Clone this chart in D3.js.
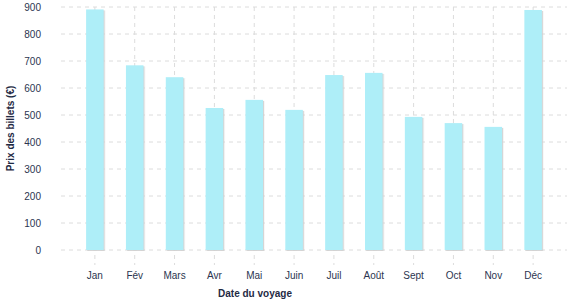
<!DOCTYPE html>
<html>
<head>
<meta charset="utf-8">
<script src="https://cdn.jsdelivr.net/npm/d3@7"></script>
<style>
body { margin: 0; background: #fff; }
text { font-family: "Liberation Sans", Arial, sans-serif; }
</style>
</head>
<body>
<div id="chart"></div>
<script>
var months = ["Jan", "Fév", "Mars", "Avr", "Mai", "Juin", "Juil", "Août", "Sept", "Oct", "Nov", "Déc"];
var prices = [891, 684, 640, 526, 556, 519, 648, 656, 493, 470, 456, 889];
var yTicks = [0, 100, 200, 300, 400, 500, 600, 700, 800, 900];

var width = 577, height = 300;
var margin = {top: 7, right: 10, bottom: 50, left: 61};
var innerW = width - margin.left - margin.right,
    innerH = height - margin.top - margin.bottom;

var svg = d3.select("#chart").append("svg")
    .attr("width", width)
    .attr("height", height);

var defs = svg.append("defs");
var shadow = defs.append("filter").attr("id", "bar-shadow")
    .attr("x", "-20%").attr("y", "-5%").attr("width", "150%").attr("height", "120%");
shadow.append("feDropShadow")
    .attr("dx", 1.2).attr("dy", 1)
    .attr("stdDeviation", 0.4)
    .attr("flood-color", "#d0d0d0")
    .attr("flood-opacity", 0.9);

var g = svg.append("g")
    .attr("transform", "translate(" + margin.left + "," + margin.top + ")");

var x = d3.scaleBand().domain(months).range([0, innerW])
    .paddingInner(0.56).paddingOuter(0.63);
var y = d3.scaleLinear().domain([0, 900]).range([innerH, 0]);

// grid
g.append("g").selectAll("line").data(yTicks).enter()
    .append("line")
    .attr("x1", 0).attr("x2", innerW)
    .attr("y1", function(d) { return y(d); })
    .attr("y2", function(d) { return y(d); })
    .style("stroke", "#dcdcdc")
    .style("stroke-dasharray", "4,4");

g.append("g").selectAll("line").data(months).enter()
    .append("line")
    .attr("x1", function(d) { return x(d) + x.bandwidth() / 2; })
    .attr("x2", function(d) { return x(d) + x.bandwidth() / 2; })
    .attr("y1", 0).attr("y2", innerH + 15)
    .style("stroke", "#dcdcdc")
    .style("stroke-dasharray", "4,4");

// bars
g.append("g").selectAll("rect").data(prices).enter()
    .append("rect")
    .attr("x", function(d, i) { return x(months[i]); })
    .attr("y", function(d) { return y(d); })
    .attr("width", x.bandwidth())
    .attr("height", function(d) { return innerH - y(d); })
    .attr("filter", "url(#bar-shadow)")
    .style("fill", "#aeeef8");

// axes
var yAxis = d3.axisLeft(y).tickValues(yTicks).tickSize(0).tickPadding(20);
var yAxisG = g.append("g").call(yAxis);
yAxisG.select(".domain").remove();
yAxisG.selectAll("text")
    .style("font-size", "10px")
    .style("fill", "#2b3550");

var xAxis = d3.axisBottom(x).tickSize(0).tickPadding(22);
var xAxisG = g.append("g")
    .attr("transform", "translate(0," + innerH + ")")
    .call(xAxis);
xAxisG.select(".domain").remove();
xAxisG.selectAll("text")
    .style("font-size", "10px")
    .style("fill", "#2b3550");

// titles
svg.append("text")
    .attr("transform", "translate(14," + (margin.top + innerH / 2) + ") rotate(-90)")
    .attr("text-anchor", "middle")
    .style("font-size", "10px")
    .style("font-weight", "bold")
    .style("fill", "#1f2a44")
    .text("Prix des billets (€)");

svg.append("text")
    .attr("x", 255).attr("y", 297)
    .attr("text-anchor", "middle")
    .style("font-size", "10px")
    .style("font-weight", "bold")
    .style("fill", "#1f2a44")
    .text("Date du voyage");
</script>
</body>
</html>
